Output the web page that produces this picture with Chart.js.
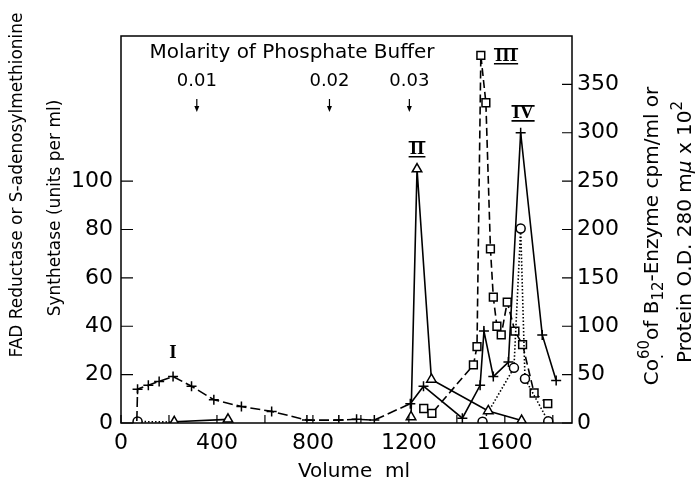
<!DOCTYPE html>
<html><head><meta charset="utf-8">
<script src="https://cdn.jsdelivr.net/npm/chart.js@4.4.1/dist/chart.umd.min.js"></script>
<style>html,body{margin:0;padding:0;background:#fff}#wrap{width:697px;height:482px}</style>
</head><body><div id="wrap"><canvas id="c" width="697" height="482"></canvas></div>
<script>
// ---- data ----
// "+" series (right axis)
const plusVolume = [66, 69, 114, 159, 217, 294, 387, 502, 628, 775, 908, 982, 1056, 1206, 1261, 1423, 1497, 1513, 1552, 1615, 1666, 1756, 1814];
const plusValue  = [2, 35, 39, 43, 48, 38, 24, 17, 12, 3, 3, 3.8, 3, 20, 38, 5, 39, 95, 48, 63, 300, 91, 44];
// triangle series (left axis)
const triVolume = [222, 446, 830, 1209, 1234, 1294, 1531, 1670];
const triValue  = [0.5, 1.5, null, 2.5, 105, 18, 5, 1];
// circle series (left axis)
const circVolume = [69, 222, 800, 1507, 1638, 1666, 1684, 1781];
const circValue  = [0.6, 0.4, null, 0.5, 22.8, 80.4, 18.3, 0.7];
// square series (right axis)
const sqVolume = [1262, 1296, 1469, 1484, 1500, 1521, 1540, 1552, 1567, 1585, 1610, 1642, 1674, 1722, 1779];
const sqValue  = [15, 10, 60, 79, 380, 331, 180, 130, 100, 91, 125, 95, 81, 31, 20];
// axes ticks
const xTickValues = [0, 200, 400, 600, 800, 1000, 1200, 1400, 1600, 1800];
const xLabelValues = [0, 400, 800, 1200, 1600];
const leftTickValues = [0, 20, 40, 60, 80, 100];
const rightTickValues = [0, 50, 100, 150, 200, 250, 300, 350];
// annotations
const molarityLabels = ['0.01', '0.02', '0.03'];
const molarityVolume = [316, 869, 1202];
const romanLabels = ['I', 'II', 'III', 'IV'];
const romanVolume = [217, 1234, 1605, 1676];
const romanValue  = [72, 283, 379, 320]; // right-axis units

function pts(xs, ys) { return xs.map((x, i) => ({ x: x, y: ys[i] })); }

const SANS = '"DejaVu Sans", sans-serif';
const tickFont = { family: SANS, size: 22 };

const decor = {
  id: 'decor',
  afterDraw(chart) {
    const ctx = chart.ctx, a = chart.chartArea;
    const xs = chart.scales.x, yl = chart.scales.yL, yr = chart.scales.yR;
    ctx.save();
    ctx.strokeStyle = '#000'; ctx.fillStyle = '#000';
    // frame
    ctx.lineWidth = 1.5;
    ctx.strokeRect(a.left, a.top, a.right - a.left, a.bottom - a.top);
    // inward ticks
    ctx.lineWidth = 1.2;
    ctx.beginPath();
    leftTickValues.forEach(v => { const y = yl.getPixelForValue(v); ctx.moveTo(a.left, y); ctx.lineTo(a.left + 12, y); });
    rightTickValues.forEach(v => { const y = yr.getPixelForValue(v); ctx.moveTo(a.right, y); ctx.lineTo(a.right - 10, y); });
    xTickValues.forEach(v => { const x = xs.getPixelForValue(v); ctx.moveTo(x, a.bottom); ctx.lineTo(x, a.bottom - 8); });
    ctx.stroke();
    // title
    ctx.textAlign = 'center'; ctx.textBaseline = 'middle';
    ctx.font = '20px ' + SANS;
    ctx.fillText('Molarity of Phosphate Buffer', 292, 53);
    molarityLabels.forEach((t, i) => {
      const x = xs.getPixelForValue(molarityVolume[i]);
      ctx.font = '18px ' + SANS;
      ctx.fillText(t, x, 81);
      ctx.beginPath(); ctx.moveTo(x, 99); ctx.lineTo(x, 108); ctx.lineWidth = 1.2; ctx.stroke();
      ctx.beginPath(); ctx.moveTo(x - 2.5, 106); ctx.lineTo(x + 2.5, 106); ctx.lineTo(x, 112); ctx.closePath(); ctx.fill();
    });
    // roman numerals
    ctx.font = 'bold 19px "Liberation Serif", serif';
    romanLabels.forEach((t, i) => {
      const x = xs.getPixelForValue(romanVolume[i]);
      const y = yr.getPixelForValue(romanValue[i]);
      ctx.fillText(t, x, y);
      if (t !== 'I') {
        const w = ctx.measureText(t).width;
        ctx.lineWidth = 1.6;
        ctx.beginPath();
        ctx.moveTo(x - w / 2 - 1, y - 7.5); ctx.lineTo(x + w / 2 + 1, y - 7.5);
        ctx.moveTo(x - w / 2 - 1, y + 7.5); ctx.lineTo(x + w / 2 + 1, y + 7.5);
        ctx.stroke();
      }
    });
    // x title
    ctx.font = '20px ' + SANS;
    ctx.fillText('Volume  ml', 354, 472);
    // left title
    drawRich(ctx, 16, 185, [{ t: 'FAD Reductase or S-adenosylmethionine' }], 17);
    drawRich(ctx, 54, 208, [{ t: 'Synthetase (units per ml)' }], 17);
    // right title
    drawRich(ctx, 651, 236, [
      { t: 'Co' }, { t: '.', dy: 5, scale: 0.75, adv: false }, { t: '60', dy: -9, scale: 0.75 },
      { t: 'of B' }, { t: '12', dy: 5, scale: 0.75 }, { t: '-Enzyme cpm/ml or' }], 20);
    drawRich(ctx, 684, 232, [
      { t: 'Protein O.D. 280 m' }, { t: 'μ', italic: true }, { t: ' x 10' }, { t: '2', dy: -9, scale: 0.75 }], 20);
    ctx.restore();
  }
};

function drawRich(ctx, cx, cy, segs, size) {
  ctx.save();
  ctx.translate(cx, cy); ctx.rotate(-Math.PI / 2);
  ctx.textAlign = 'left'; ctx.textBaseline = 'alphabetic';
  const fontOf = s => (s.italic ? 'italic ' : '') + Math.round(size * (s.scale || 1)) + 'px ' + SANS;
  let w = 0;
  segs.forEach(s => { ctx.font = fontOf(s); s.w = ctx.measureText(s.t).width; if (s.adv !== false) w += s.w; });
  let x = -w / 2;
  segs.forEach(s => {
    ctx.font = fontOf(s);
    ctx.fillText(s.t, x, size * 0.36 + (s.dy || 0));
    if (s.adv !== false) x += s.w;
  });
  ctx.restore();
}

const ctx = document.getElementById('c').getContext('2d');
new Chart(ctx, {
  type: 'scatter',
  data: {
    datasets: [
      {
        data: pts(plusVolume, plusValue), yAxisID: 'yR', showLine: true,
        borderColor: '#000', backgroundColor: '#000', borderWidth: 1.6,
        pointStyle: 'cross', pointRadius: plusVolume.map((v, i) => i === 0 ? 0 : 5), pointBorderWidth: 1.5,
        segment: { borderDash: c => c.p0.parsed.x < 1150 ? [10, 4] : undefined }
      },
      {
        data: pts(triVolume, triValue), yAxisID: 'yL', showLine: true, spanGaps: false,
        borderColor: '#000', backgroundColor: '#fff', borderWidth: 1.6,
        pointStyle: 'triangle', pointRadius: 5.5, pointBorderWidth: 1.5
      },
      {
        data: pts(circVolume, circValue), yAxisID: 'yL', showLine: true, spanGaps: false,
        borderColor: '#000', backgroundColor: '#fff', borderWidth: 1.6, borderDash: [1.5, 2],
        pointStyle: 'circle', pointRadius: circVolume.map((v, i) => i === 1 ? 0 : 4.5), pointBorderWidth: 1.5
      },
      {
        data: pts(sqVolume, sqValue), yAxisID: 'yR', showLine: true,
        borderColor: '#000', backgroundColor: '#fff', borderWidth: 1.6, borderDash: [8, 4],
        pointStyle: 'rect', pointRadius: 5.5, pointBorderWidth: 1.5
      }
    ]
  },
  options: {
    responsive: false, animation: false, devicePixelRatio: 1,
    layout: { padding: { top: 36, left: 0, right: 0, bottom: 0 } },
    elements: { line: { tension: 0 } },
    plugins: { legend: { display: false }, tooltip: { enabled: false } },
    scales: {
      x: {
        type: 'linear', min: 0, max: 1880,
        afterBuildTicks: s => { s.ticks = xTickValues.map(v => ({ value: v })); },
        afterFit: s => { s.height = 59; },
        ticks: { callback: v => xLabelValues.includes(v) ? String(v) : '', font: tickFont, color: '#000', padding: 7, maxRotation: 0, autoSkip: false },
        grid: { drawOnChartArea: false, drawTicks: false },
        border: { display: false }
      },
      yL: {
        type: 'linear', position: 'left', min: 0, max: 160,
        afterBuildTicks: s => { s.ticks = leftTickValues.map(v => ({ value: v })); },
        afterFit: s => { s.width = 121; },
        ticks: { font: tickFont, color: '#000', padding: 8, autoSkip: false },
        grid: { drawOnChartArea: false, drawTicks: false },
        border: { display: false }
      },
      yR: {
        type: 'linear', position: 'right', min: 0, max: 400,
        afterBuildTicks: s => { s.ticks = rightTickValues.map(v => ({ value: v })); },
        afterFit: s => { s.width = 125; },
        ticks: { font: tickFont, color: '#000', padding: 5, autoSkip: false },
        grid: { drawOnChartArea: false, drawTicks: false },
        border: { display: false }
      }
    }
  },
  plugins: [decor]
});
</script>
</body></html>
